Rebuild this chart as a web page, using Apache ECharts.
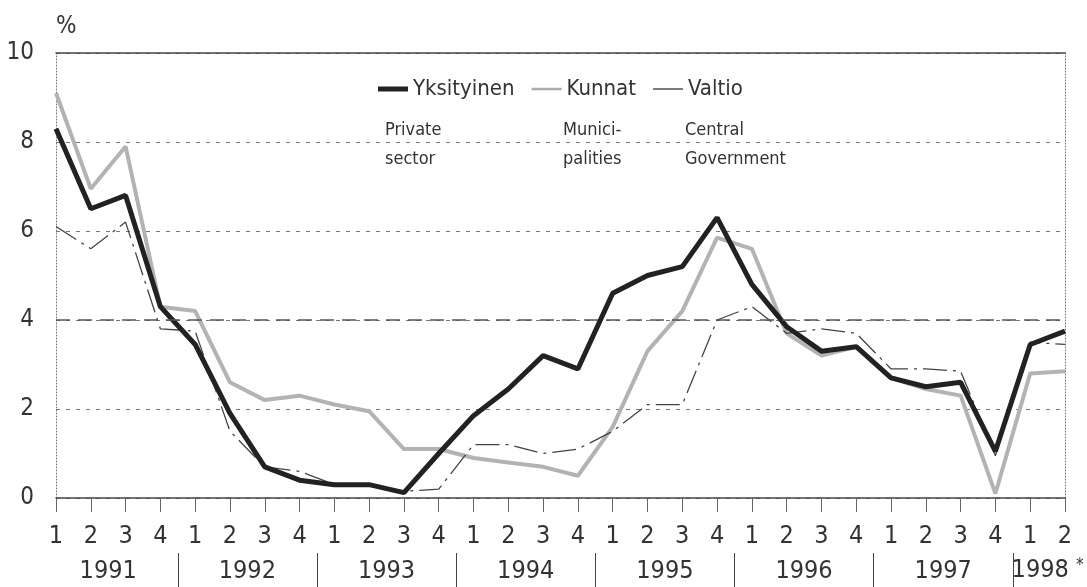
<!DOCTYPE html>
<html>
<head>
<meta charset="utf-8">
<script src="https://cdn.jsdelivr.net/npm/echarts@6/dist/echarts.min.js"></script>
<style>
  html, body { margin: 0; padding: 0; background: #fff; }
  #chart { width: 1087px; height: 587px; }
</style>
</head>
<body>
<div id="chart"></div>
<script>
// quarters 1991Q1 .. 1998Q2
const quarterLabels = ['1','2','3','4','1','2','3','4','1','2','3','4','1','2','3','4',
  '1','2','3','4','1','2','3','4','1','2','3','4','1','2']
const yearLabels = ['1991', '1992', '1993', '1994', '1995', '1996', '1997', '1998*']

const yksityinen = [8.3, 6.5, 6.8, 4.3, 3.45, 1.9, 0.7, 0.4, 0.3, 0.3, 0.12, 1.0,
  1.85, 2.45, 3.2, 2.9, 4.6, 5.0, 5.2, 6.3, 4.8, 3.85, 3.3, 3.4, 2.7, 2.5, 2.6, 1.05, 3.45, 3.75]
const kunnat = [9.1, 6.95, 7.9, 4.3, 4.2, 2.6, 2.2, 2.3, 2.1, 1.95, 1.1, 1.1,
  0.9, 0.8, 0.7, 0.5, 1.6, 3.3, 4.2, 5.85, 5.6, 3.7, 3.2, 3.4, 2.7, 2.45, 2.3, 0.1, 2.8, 2.85]
const valtio = [6.1, 5.6, 6.2, 3.8, 3.75, 1.5, 0.7, 0.6, 0.3, 0.3, 0.15, 0.2,
  1.2, 1.2, 1.0, 1.1, 1.5, 2.1, 2.1, 4.0, 4.3, 3.7, 3.8, 3.7, 2.9, 2.9, 2.85, 0.95, 3.5, 3.45]

const refLine = 4
const font = "'Liberation Sans Narrow', 'DejaVu Sans Condensed', sans-serif"

// half-step category axis for year labels and year separators
const yearStarts = quarterLabels.map((q, i) => (q === '1' ? i : -1)).filter((i) => i >= 0)
const halfCats = new Array(quarterLabels.length * 2 - 1).fill('')
const separators = new Set()
yearStarts.forEach((s, k) => {
  const end = k + 1 < yearStarts.length ? yearStarts[k + 1] : quarterLabels.length
  halfCats[2 * s + (end - s) - 1] = yearLabels[k]
  if (s > 0) separators.add(2 * s - 1)
})

const chart = echarts.init(document.getElementById('chart'))
chart.setOption({
  animation: false,
  textStyle: { fontFamily: font },
  grid: [
    { left: 56, right: 22, top: 53, bottom: 89 },
    { left: 56, right: 22, top: 553, bottom: 0 },
  ],
  legend: {
    data: [
      { name: 'Yksityinen', icon: 'path://M0,0H30V5H0Z', itemStyle: { color: '#222' } },
      { name: 'Kunnat', icon: 'path://M0,0H30V2.5H0Z', itemStyle: { color: '#aaa' } },
      { name: 'Valtio', icon: 'path://M0,0H30V1.4H0Z', itemStyle: { color: '#444' } },
    ],
    left: 373, top: 73,
    itemWidth: 30, itemHeight: 14, itemGap: 17,
    textStyle: { fontSize: 22, color: '#333', fontFamily: font },
  },
  graphic: [
    { type: 'text', left: 385, top: 116, style: { text: 'Private\nsector', font: '18px ' + font, fill: '#333', lineHeight: 29 } },
    { type: 'text', left: 563, top: 116, style: { text: 'Munici-\npalities', font: '18px ' + font, fill: '#333', lineHeight: 29 } },
    { type: 'text', left: 685, top: 116, style: { text: 'Central\nGovernment', font: '18px ' + font, fill: '#333', lineHeight: 29 } },
  ],
  xAxis: [
    {
      type: 'category', data: quarterLabels, boundaryGap: false,
      axisLine: { onZero: false, lineStyle: { color: '#444', width: 1.5 } },
      axisTick: { length: 14, lineStyle: { color: '#666' } },
      axisLabel: { fontSize: 25, color: '#333', margin: 26, interval: 0 },
      splitLine: { show: false },
    },
    {
      type: 'category', data: quarterLabels, boundaryGap: false, position: 'top',
      axisLine: { onZero: false, lineStyle: { color: '#444', width: 1.5 } },
      axisTick: { show: false }, axisLabel: { show: false }, splitLine: { show: false },
    },
    {
      gridIndex: 1, type: 'category', data: halfCats, boundaryGap: false, position: 'bottom',
      axisLine: { show: false },
      axisTick: { inside: true, length: 34, interval: (i) => separators.has(i), lineStyle: { color: '#444' } },
      axisLabel: {
        inside: true, fontSize: 25, color: '#333', margin: 3,
        interval: (i, v) => v !== '',
        formatter: (v) => (v.endsWith('*') ? v.slice(0, -1) + ' {s|*}' : v),
        rich: { s: { fontSize: 17, padding: [0, 0, 10, 0], fontFamily: font, color: '#333' } },
      },
    },
  ],
  yAxis: [
    {
      type: 'value', min: 0, max: 10, interval: 2,
      name: '%', nameLocation: 'end', nameGap: 14,
      nameTextStyle: { fontSize: 24, color: '#333', align: 'left', fontFamily: font },
      axisLine: { show: true, lineStyle: { color: '#777', type: [1, 2] } },
      axisTick: { show: false },
      axisLabel: { fontSize: 24, color: '#333', margin: 22 },
      splitLine: { lineStyle: { color: '#777', type: [4, 6], width: 1 } },
    },
    {
      type: 'value', min: 0, max: 10, interval: 2, position: 'right',
      axisLine: { show: true, lineStyle: { color: '#777', type: [1, 2] } },
      axisTick: { show: false }, axisLabel: { show: false }, splitLine: { show: false },
    },
    { gridIndex: 1, type: 'value', show: false },
  ],
  series: [
    {
      name: 'Kunnat', type: 'line', data: kunnat, showSymbol: false, symbol: 'none',
      lineStyle: { color: '#b3b3b3', width: 4 }, itemStyle: { color: '#b3b3b3' },
      z: 2,
    },
    {
      name: 'Valtio', type: 'line', data: valtio, showSymbol: false, symbol: 'none',
      lineStyle: { color: '#444', width: 1.3, type: [24, 6, 3, 6] }, itemStyle: { color: '#444' },
      z: 3,
    },
    {
      name: 'Yksityinen', type: 'line', data: yksityinen, showSymbol: false, symbol: 'none',
      lineStyle: { color: '#222', width: 5 }, itemStyle: { color: '#222' },
      z: 4,
      markLine: {
        silent: true, symbol: 'none', label: { show: false },
        lineStyle: { color: '#555', type: [14, 8], width: 1.5 },
        data: [{ yAxis: refLine }],
      },
    },
  ],
})
</script>
</body>
</html>
